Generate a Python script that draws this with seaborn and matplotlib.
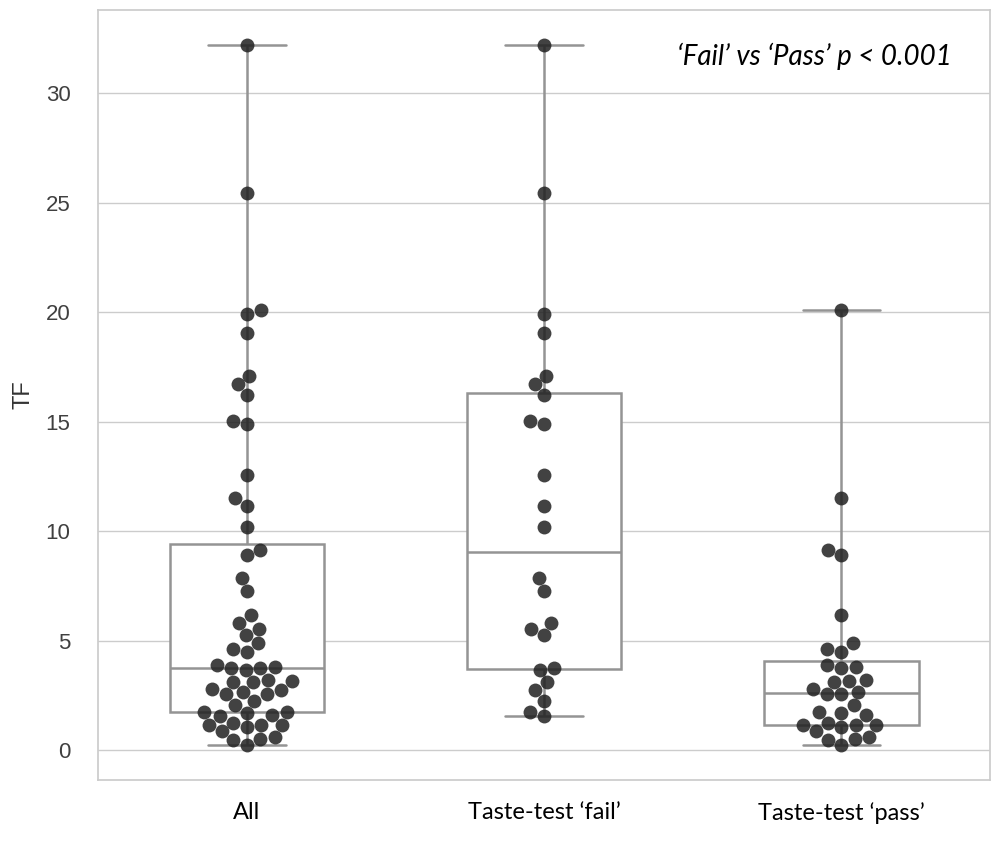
import numpy as np
import pandas as pd
import matplotlib.pyplot as plt
import seaborn as sns

# category labels as shown on the x axis
group_names = ['All', 'Taste-test \u2018fail\u2019', 'Taste-test \u2018pass\u2019']

# TF values; "All" is the union of the two taste-test groups
fail_tf = [32.2, 25.45, 19.9, 19.05, 17.1, 16.7, 16.2, 15.05, 14.9, 12.55, 11.15, 10.2,
           7.85, 7.25, 5.8, 5.55, 5.25, 3.75, 3.65, 3.1, 2.75, 2.25, 1.75, 1.55]
pass_tf = [20.1, 11.5, 9.15, 8.9, 6.15, 4.9, 4.6, 4.5, 3.9, 3.8, 3.75, 3.2, 3.15, 3.1,
           2.8, 2.65, 2.55, 2.55, 2.05, 1.75, 1.7, 1.6, 1.25, 1.15, 1.15, 1.15, 1.05,
           0.85, 0.6, 0.5, 0.45, 0.25]
all_tf = fail_tf + pass_tf

annotation = '\u2018Fail\u2019 vs \u2018Pass\u2019 p < 0.001'

df = pd.DataFrame({
    'group': [group_names[0]] * len(all_tf) + [group_names[1]] * len(fail_tf)
             + [group_names[2]] * len(pass_tf),
    'TF': all_tf + fail_tf + pass_tf,
})

sns.set_theme(style='whitegrid')
plt.rcParams['font.family'] = ['Liberation Sans', 'DejaVu Sans']

fig, ax = plt.subplots(figsize=(10.03, 8.41), dpi=100)
fig.subplots_adjust(left=0.098, right=0.987, top=0.988, bottom=0.073)

sns.boxplot(data=df, x='group', y='TF', order=group_names, whis=(0, 100), width=0.52,
            color='white', linecolor='0.58', linewidth=1.8, ax=ax)
sns.swarmplot(data=df, x='group', y='TF', order=group_names, color='0.13', alpha=0.85,
              size=10, ax=ax)

ax.set_xlabel('')
ax.set_ylabel('TF', fontsize=17, color='0.2', labelpad=8)
ax.tick_params(axis='y', labelsize=16, labelcolor='0.25', pad=14)
for lab in ax.get_xticklabels():
    lab.set_fontfamily(['Lato', 'DejaVu Sans'])
    lab.set_fontsize(17)
    lab.set_color('black')
ax.tick_params(axis='x', pad=10)

ax.text(0.957, 0.94, annotation, transform=ax.transAxes, ha='right', va='center',
        style='italic', fontsize=20, family=['Lato', 'DejaVu Sans'], color='black')

fig.savefig('out.png', dpi=100)
